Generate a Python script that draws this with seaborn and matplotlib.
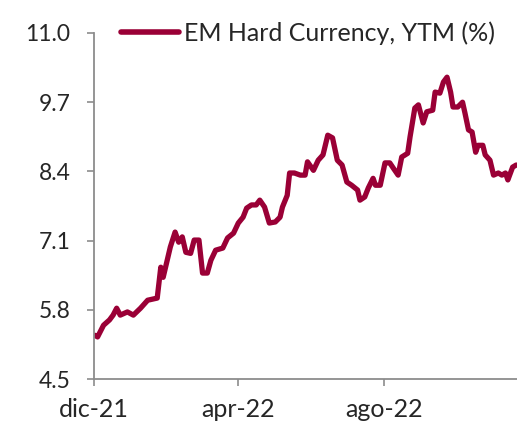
import matplotlib
matplotlib.use("Agg")
import matplotlib.pyplot as plt
import pandas as pd
import seaborn as sns

dates = [
    "2021-12-02", "2021-12-04", "2021-12-09", "2021-12-14", "2021-12-17", "2021-12-20",
    "2021-12-23", "2021-12-29", "2022-01-03", "2022-01-09", "2022-01-15", "2022-01-23",
    "2022-01-26", "2022-01-28", "2022-02-01", "2022-02-03", "2022-02-07", "2022-02-10",
    "2022-02-13", "2022-02-16", "2022-02-20", "2022-02-23", "2022-02-27", "2022-03-02",
    "2022-03-06", "2022-03-09", "2022-03-13", "2022-03-19", "2022-03-23", "2022-03-28",
    "2022-04-01", "2022-04-05", "2022-04-08", "2022-04-12", "2022-04-16", "2022-04-19",
    "2022-04-23", "2022-04-27", "2022-05-02", "2022-05-06", "2022-05-08", "2022-05-12",
    "2022-05-14", "2022-05-18", "2022-05-23", "2022-05-27", "2022-05-29", "2022-06-03",
    "2022-06-07", "2022-06-11", "2022-06-15", "2022-06-19", "2022-06-23", "2022-06-27",
    "2022-07-01", "2022-07-05", "2022-07-10", "2022-07-12", "2022-07-16", "2022-07-19",
    "2022-07-23", "2022-07-25", "2022-07-29", "2022-08-02", "2022-08-06", "2022-08-09",
    "2022-08-13", "2022-08-16", "2022-08-21", "2022-08-23", "2022-08-27", "2022-08-30",
    "2022-09-03", "2022-09-06", "2022-09-11", "2022-09-13", "2022-09-17", "2022-09-20",
    "2022-09-23", "2022-09-26", "2022-09-28", "2022-10-02", "2022-10-06", "2022-10-08",
    "2022-10-11", "2022-10-14", "2022-10-17", "2022-10-19", "2022-10-23", "2022-10-25",
    "2022-10-29", "2022-11-01", "2022-11-05", "2022-11-08", "2022-11-11", "2022-11-13",
    "2022-11-17", "2022-11-20",
]
ytm = [
    5.32, 5.29, 5.51, 5.61, 5.70, 5.83,
    5.70, 5.76, 5.70, 5.83, 5.98, 6.02,
    6.60, 6.41, 6.79, 6.98, 7.26, 7.07,
    7.17, 6.88, 6.86, 7.11, 7.11, 6.49,
    6.49, 6.73, 6.92, 6.96, 7.15, 7.24,
    7.43, 7.54, 7.71, 7.77, 7.77, 7.86,
    7.73, 7.43, 7.45, 7.54, 7.73, 7.95,
    8.37, 8.37, 8.33, 8.33, 8.58, 8.42,
    8.61, 8.71, 9.08, 9.03, 8.61, 8.52,
    8.20, 8.14, 8.05, 7.86, 7.92, 8.09,
    8.27, 8.14, 8.14, 8.56, 8.56, 8.46,
    8.33, 8.67, 8.74, 9.05, 9.59, 9.65,
    9.31, 9.52, 9.55, 9.89, 9.87, 10.08,
    10.17, 9.89, 9.61, 9.61, 9.70, 9.50,
    9.18, 9.14, 8.76, 8.89, 8.89, 8.71,
    8.61, 8.33, 8.37, 8.33, 8.37, 8.24,
    8.48, 8.52,
]
series_name = "EM Hard Currency, YTM (%)"
y_ticks = [4.5, 5.8, 7.1, 8.4, 9.7, 11.0]
x_tick_dates = ["2021-12-01", "2022-04-01", "2022-08-01"]
x_tick_labels = ["dic-21", "apr-22", "ago-22"]

df = pd.DataFrame({"date": pd.to_datetime(dates), "value": ytm, "series": series_name})

sns.set_theme(style="white")
plt.rcParams["font.family"] = ["Lato", "DejaVu Sans"]

fig = plt.figure(figsize=(5.17, 4.23), dpi=100)
ax = fig.add_axes([94 / 517, 1 - 379 / 423, 1 - 94 / 517 + 0.01, (379 - 33) / 423])

color = "#9A0036"
sns.lineplot(data=df, x="date", y="value", hue="series", palette=[color],
             linewidth=3.8, ax=ax)

ax.set_xlim(pd.Timestamp("2021-12-01"), pd.Timestamp("2022-11-25"))
ax.set_ylim(4.5, 11.0)
ax.set_yticks(y_ticks)
ax.set_yticklabels([f"{v:.1f}" for v in y_ticks])
ax.set_xticks(pd.to_datetime(x_tick_dates))
ax.set_xticklabels(x_tick_labels)
ax.set_xlabel("")
ax.set_ylabel("")

for s in ["top", "right"]:
    ax.spines[s].set_visible(False)
for s in ["left", "bottom"]:
    ax.spines[s].set_color("#8c8c8c")
    ax.spines[s].set_linewidth(1.3)

ax.tick_params(axis="both", which="major", direction="out", length=5, width=1.2,
               color="#8c8c8c", labelcolor="#262626")
ax.tick_params(axis="y", pad=12, labelsize=16.5)
ax.tick_params(axis="x", pad=9, labelsize=18)
ax.tick_params(left=True, bottom=True)

leg = ax.legend(loc="center", bbox_to_anchor=(0.50, 1.0), frameon=False,
                fontsize=18, handlelength=2.3, handletextpad=0.2, borderaxespad=0)
for line in leg.get_lines():
    line.set_linewidth(4.0)
    line.set_solid_capstyle("round")
for t in leg.get_texts():
    t.set_color("#262626")

fig.savefig("out.png", dpi=100)
